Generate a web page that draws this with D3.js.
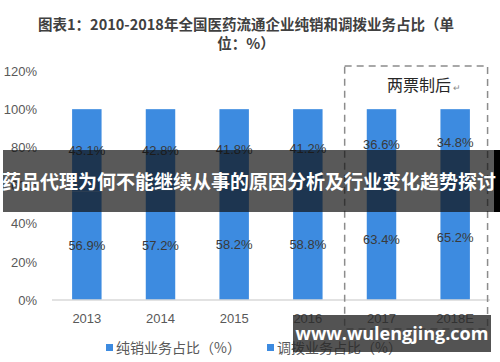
<!DOCTYPE html>
<html>
<head>
<meta charset="utf-8">
<script src="https://cdn.jsdelivr.net/npm/d3@7"></script>
<style>
  body { margin: 0; background: #fff; }
  svg { display: block; font-family: "Noto Sans CJK SC", "Noto Sans", sans-serif; }
</style>
</head>
<body>
<div id="chart"></div>
<script>
// Data
const years = ["2013", "2014", "2015", "2016", "2017", "2018E"];
const pureSales = [56.9, 57.2, 58.2, 58.8, 63.4, 65.2];
const transfer = [43.1, 42.8, 41.8, 41.2, 36.6, 34.8];
const seriesNames = ["纯销业务占比（%）", "调拨业务占比（%）"];
const yTicks = [0, 20, 40, 60, 80, 100, 120];

const W = 500, H = 362;
const barColor = "#3d8be0";

const svg = d3.select("#chart").append("svg")
    .attr("width", W)
    .attr("height", H);

// Scales
const x = d3.scaleBand().domain(years).range([50, 492])
    .paddingInner(0.6).paddingOuter(0.3);
const y = d3.scaleLinear().domain([0, 120]).range([300, 71]);

// Title
svg.append("text")
    .attr("x", 246).attr("y", 30)
    .attr("text-anchor", "middle")
    .attr("font-size", 14.5).attr("font-weight", "bold").attr("fill", "#404040")
    .text("图表1：2010-2018年全国医药流通企业纯销和调拨业务占比（单");
svg.append("text")
    .attr("x", 246).attr("y", 49)
    .attr("text-anchor", "middle")
    .attr("font-size", 14.5).attr("font-weight", "bold").attr("fill", "#404040")
    .text("位：%）");

// Y axis
const yAxis = svg.append("g")
    .attr("transform", "translate(37,0)")
    .call(d3.axisLeft(y).tickValues(yTicks).tickSize(0).tickPadding(0).tickFormat(d => d + "%"));
yAxis.select(".domain").remove();
yAxis.selectAll("text")
    .attr("font-size", 13).attr("fill", "#595959")
    .attr("font-family", "'Liberation Sans', 'DejaVu Sans', sans-serif");

// Stacked bars
const stackData = years.map((yr, i) => ({ year: yr, a: pureSales[i], b: transfer[i] }));

svg.append("g").selectAll("rect.a")
    .data(stackData).join("rect")
    .attr("x", d => x(d.year))
    .attr("width", x.bandwidth())
    .attr("y", d => y(d.a))
    .attr("height", d => y(0) - y(d.a))
    .attr("fill", barColor);

svg.append("g").selectAll("rect.b")
    .data(stackData).join("rect")
    .attr("x", d => x(d.year))
    .attr("width", x.bandwidth())
    .attr("y", d => y(d.a + d.b))
    .attr("height", d => y(d.a) - y(d.a + d.b))
    .attr("fill", barColor);

// Value labels
const lbl = svg.append("g")
    .attr("font-size", 13).attr("fill", "#3a3a3a")
    .attr("font-family", "'Liberation Sans', 'DejaVu Sans', sans-serif")
    .attr("text-anchor", "middle");
lbl.selectAll("text.a")
    .data(stackData).join("text")
    .attr("x", d => x(d.year) + x.bandwidth() / 2)
    .attr("y", d => y(d.a / 2))
    .attr("dy", "0.36em")
    .text(d => d.a.toFixed(1) + "%");
lbl.selectAll("text.b")
    .data(stackData).join("text")
    .attr("x", d => x(d.year) + x.bandwidth() / 2)
    .attr("y", d => y(d.a + d.b / 2))
    .attr("dy", "0.36em")
    .text(d => d.b.toFixed(1) + "%");

// Baseline
svg.append("line")
    .attr("x1", 52).attr("x2", 490)
    .attr("y1", y(0)).attr("y2", y(0))
    .attr("stroke", "#d9d9d9").attr("stroke-width", 1.5);

// X axis
const xAxis = svg.append("g")
    .attr("transform", `translate(0,${y(0)})`)
    .call(d3.axisBottom(x).tickSize(0).tickPadding(14));
xAxis.select(".domain").remove();
xAxis.selectAll("text")
    .attr("font-size", 13).attr("fill", "#595959")
    .attr("font-family", "'Liberation Sans', 'DejaVu Sans', sans-serif");

// Dashed box for "两票制后"
const step = x.step(), gap = step - x.bandwidth();
const boxL = x("2017") - gap / 2;
const boxR = x("2018E") + x.bandwidth() + gap * 0.4;
svg.append("rect")
    .attr("x", boxL).attr("y", y(120) - 5)
    .attr("width", boxR - boxL).attr("height", 329 - (y(120) - 5))
    .attr("fill", "none").attr("stroke", "#8c8c8c")
    .attr("stroke-width", 1.5).attr("stroke-dasharray", "7,5");
svg.append("text")
    .attr("x", 387).attr("y", 91)
    .attr("font-size", 16).attr("fill", "#262626")
    .text("两票制后");
svg.append("text")
    .attr("x", 453).attr("y", 91)
    .attr("font-size", 9).attr("fill", "#888")
    .text("↵");

// Legend
const legendX = [106, 267];
const leg = svg.append("g").selectAll("g")
    .data(seriesNames).join("g")
    .attr("transform", (d, i) => `translate(${legendX[i]},348)`);
leg.append("rect")
    .attr("x", 0).attr("y", -4).attr("width", 7).attr("height", 7)
    .attr("fill", barColor);
leg.append("text")
    .attr("x", 10).attr("dy", "0.35em")
    .attr("font-size", 14).attr("fill", "#595959")
    .text(d => d);

// Overlay banner
svg.append("rect")
    .attr("x", 3).attr("y", 150).attr("width", 497).attr("height", 62)
    .attr("fill", "rgba(15,15,15,0.69)");
svg.append("rect")
    .attr("x", 494).attr("y", 150).attr("width", 6).attr("height", 62)
    .attr("fill", "#000");
svg.append("text")
    .attr("x", 249).attr("y", 182)
    .attr("dy", "0.36em")
    .attr("text-anchor", "middle")
    .attr("font-size", 19).attr("font-weight", "bold").attr("fill", "#fff")
    .text("药品代理为何不能继续从事的原因分析及行业变化趋势探讨");

// Watermark box
svg.append("rect")
    .attr("x", 293).attr("y", 315).attr("width", 198).attr("height", 37)
    .attr("fill", "rgba(40,40,40,0.8)");
svg.append("text")
    .attr("x", 392).attr("y", 334)
    .attr("dy", "0.36em")
    .attr("text-anchor", "middle")
    .attr("font-size", 18).attr("font-weight", "bold").attr("fill", "#fff")
    .attr("font-family", "'Open Sans', 'DejaVu Sans', sans-serif")
    .text("www.wulengjing.com");
</script>
</body>
</html>
